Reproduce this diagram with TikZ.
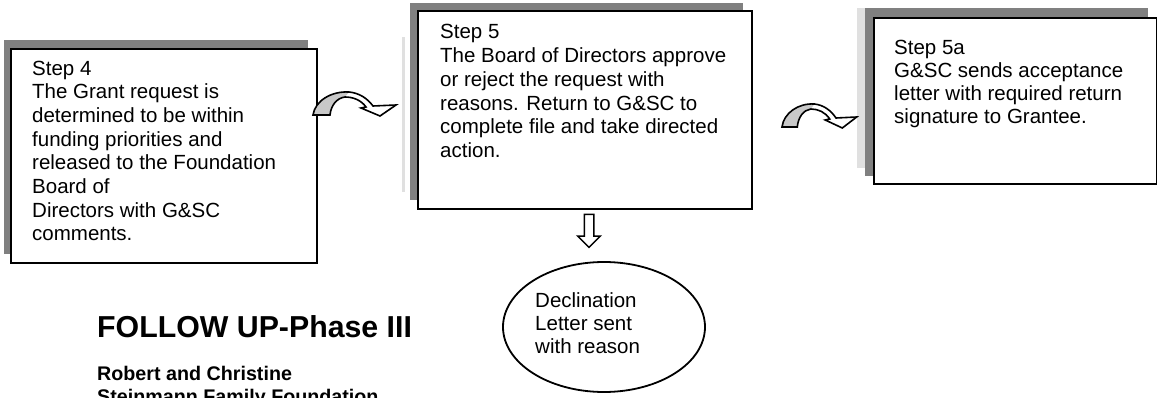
\documentclass[tikz,border=0pt]{standalone}
\usepackage{fontspec}
\setmainfont{Liberation Sans}
\usetikzlibrary{shapes.geometric,shapes.arrows}
\definecolor{shadowgray}{RGB}{128,128,128}
\definecolor{palegray}{RGB}{224,224,224}
\definecolor{arrowgray}{RGB}{200,200,200}
\tikzset{
  stepbox/.style={draw=black, line width=2pt, fill=white, anchor=north west, inner sep=0pt},
  shadowfill/.style={fill=shadowgray},
  paleshadow/.style={fill=palegray},
  boxtext/.style={anchor=base west, align=left, inner sep=0pt, font=\fontsize{20.5}{23.7}\selectfont},
  curvarrow/.pic={
    \fill[white] (0,0) .. controls (2,-14) and (18,-24) .. (36,-23)
      .. controls (46,-22) and (54,-17) .. (60,-9) -- (83,-10) -- (67,1) -- (48,-7) -- (53,-8)
      .. controls (48,-15) and (40,-18) .. (32,-18)
      .. controls (24,-17) and (18,-10) .. (17,0) -- cycle;
    \fill[arrowgray] (0,0) .. controls (2,-14) and (18,-24) .. (36,-23) -- (32,-18)
      .. controls (24,-17) and (18,-10) .. (17,0) -- cycle;
    \draw[line width=1.6pt, line join=miter] (0,0) .. controls (2,-14) and (18,-24) .. (36,-23)
      .. controls (46,-22) and (54,-17) .. (60,-9) -- (83,-10) -- (67,1) -- (48,-7) -- (53,-8)
      .. controls (48,-15) and (40,-18) .. (32,-18)
      .. controls (24,-17) and (18,-10) .. (17,0) -- cycle;
  }
}
\begin{document}
\begin{tikzpicture}[x=1pt,y=-1pt]
\useasboundingbox (0,0) rectangle (1157,398);
\fill[white] (0,0) rectangle (1157,398);

% Step 4 (text anchors are the baselines of the last lines)
\fill[shadowfill] (4,40) rectangle (308,254);
\node[stepbox, minimum width=306pt, minimum height=214pt] (s4) at (10,48) {};
\node[boxtext] (s4t) at (32,241) {Step 4\\The Grant request is\\determined to be within\\funding priorities and\\released to the Foundation\\Board of\\Directors with G\&SC\\comments.};

% Step 5
\fill[paleshadow] (402,37) rectangle (405,192);
\fill[shadowfill] (410,3) rectangle (743,200);
\node[stepbox, minimum width=334pt, minimum height=198pt] (s5) at (417,10) {};
\node[boxtext] (s5t) at (440,157.5) {Step 5\\The Board of Directors approve\\or reject the request with\\reasons. Return to G\&SC to\\complete file and take directed\\action.};

% Step 5a
\fill[paleshadow] (857,8) rectangle (1141,168);
\fill[shadowfill] (865,8) rectangle (1148,176);
\node[stepbox, minimum width=283pt, minimum height=166pt] (s5a) at (873,17) {};
\node[boxtext, font=\fontsize{20.5}{22.9}\selectfont] (s5at) at (894,123.7) {Step 5a\\G\&SC sends acceptance\\letter with required return\\signature to Grantee.};

% curved arrows
\coordinate (ca1) at (313,115);
\coordinate (ca2) at (782,127);
\pic at (ca1) {curvarrow};
\pic[xscale=0.9] at (ca2) {curvarrow};

% down arrow and declination ellipse
\node[draw, single arrow, line width=1.5pt, rotate=-90, minimum height=33pt,
      single arrow head extend=6.5pt, single arrow tip angle=90, inner sep=4pt, fill=white] (dn) at (589,228.5) {};
\node[draw, ellipse, line width=1.8pt, minimum width=202pt, minimum height=130pt, inner sep=0pt] (decl) at (604,327) {};
\node[boxtext, font=\fontsize{20.5}{23}\selectfont] (declt) at (535,353) {Declination\\Letter sent\\with reason};

% title
\node[anchor=base west, inner sep=0pt, font=\bfseries\fontsize{30.3}{36}\selectfont] (title) at (97,337) {FOLLOW UP-Phase III};
\node[anchor=base west, inner sep=0pt, align=left, font=\bfseries\fontsize{19.7}{23.5}\selectfont] (org) at (97,403.5) {Robert and Christine\\Steinmann Family Foundation};
\end{tikzpicture}
\end{document}
